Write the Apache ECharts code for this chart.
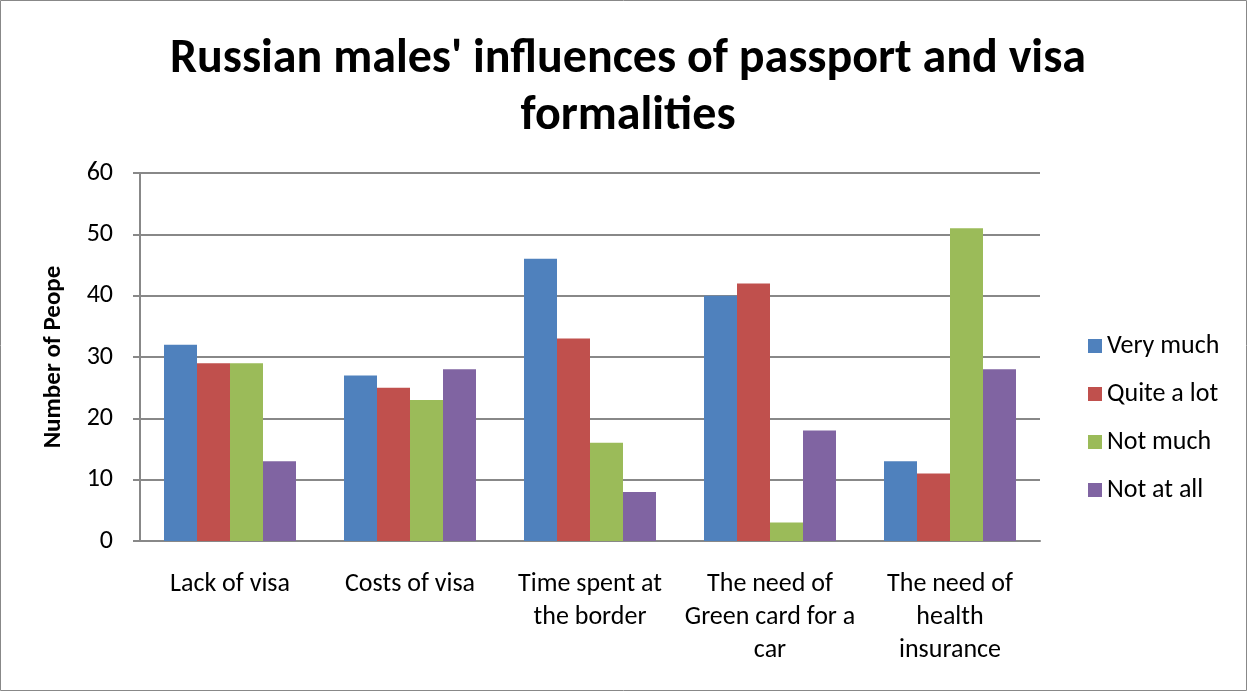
<!DOCTYPE html>
<html><head><meta charset="utf-8">
<script src="https://cdn.jsdelivr.net/npm/echarts@6/dist/echarts.min.js"></script>
<style>html,body{margin:0;padding:0;background:#fff}#c{width:1247px;height:691px}</style>
</head><body><div id="c"></div>
<script>
const categories = ['Lack of visa', 'Costs of visa', 'Time spent at\nthe border', 'The need of\nGreen card for a\ncar', 'The need of\nhealth\ninsurance'];
const seriesNames = ['Very much', 'Quite a lot', 'Not much', 'Not at all'];
const veryMuch = [32, 27, 46, 40, 13];
const quiteALot = [29, 25, 33, 42, 11];
const notMuch = [29, 23, 16, 3, 51];
const notAtAll = [13, 28, 8, 18, 28];
const colors = ['#4f81bd', '#c0504d', '#9bbb59', '#8064a2'];
const values = [veryMuch, quiteALot, notMuch, notAtAll];
const font = 'Carlito, "Open Sans", "Liberation Sans", sans-serif';

const chart = echarts.init(document.getElementById('c'));
chart.setOption({
  animation: false,
  title: {
    text: "Russian males' influences of passport and visa\nformalities",
    left: 623, textAlign: 'center', top: 26,
    textStyle: { fontFamily: font, fontSize: 48, fontWeight: 'bold', color: '#000', lineHeight: 57 }
  },
  graphic: [{ type: 'rect', shape: { x: 0.5, y: 0.5, width: 1246, height: 690 }, style: { fill: 'none', stroke: '#888', lineWidth: 1 } }],
  legend: {
    orient: 'vertical', left: 1083, top: 328, itemGap: 22, itemWidth: 14, itemHeight: 14,
    icon: 'rect', itemStyle: { borderWidth: 0 },
    textStyle: { fontFamily: font, fontSize: 26, lineHeight: 26, color: '#000' },
    data: seriesNames
  },
  grid: { left: 140, right: 207, top: 173, bottom: 150 },
  xAxis: {
    type: 'category', data: categories,
    axisLine: { lineStyle: { color: '#888', width: 2 } },
    axisTick: { show: false },
    axisLabel: { fontFamily: font, fontSize: 26, color: '#000', lineHeight: 33, margin: 27, interval: 0 }
  },
  yAxis: {
    type: 'value', min: 0, max: 60, interval: 10,
    name: 'Number of Peope', nameLocation: 'middle', nameGap: 74, nameRotate: 90,
    nameTextStyle: { fontFamily: font, fontSize: 25, fontWeight: 'bold', color: '#000' },
    axisLine: { show: true, lineStyle: { color: '#888', width: 2 } },
    axisTick: { show: true, length: 7, lineStyle: { color: '#888', width: 2 } },
    splitLine: { lineStyle: { color: '#888', width: 2 } },
    axisLabel: { fontFamily: font, fontSize: 26, color: '#000', margin: 27 }
  },
  series: seriesNames.map((n, i) => ({
    name: n, type: 'bar', data: values[i], barWidth: 33, barGap: '0%',
    itemStyle: { color: colors[i] }
  }))
});
</script></body></html>
